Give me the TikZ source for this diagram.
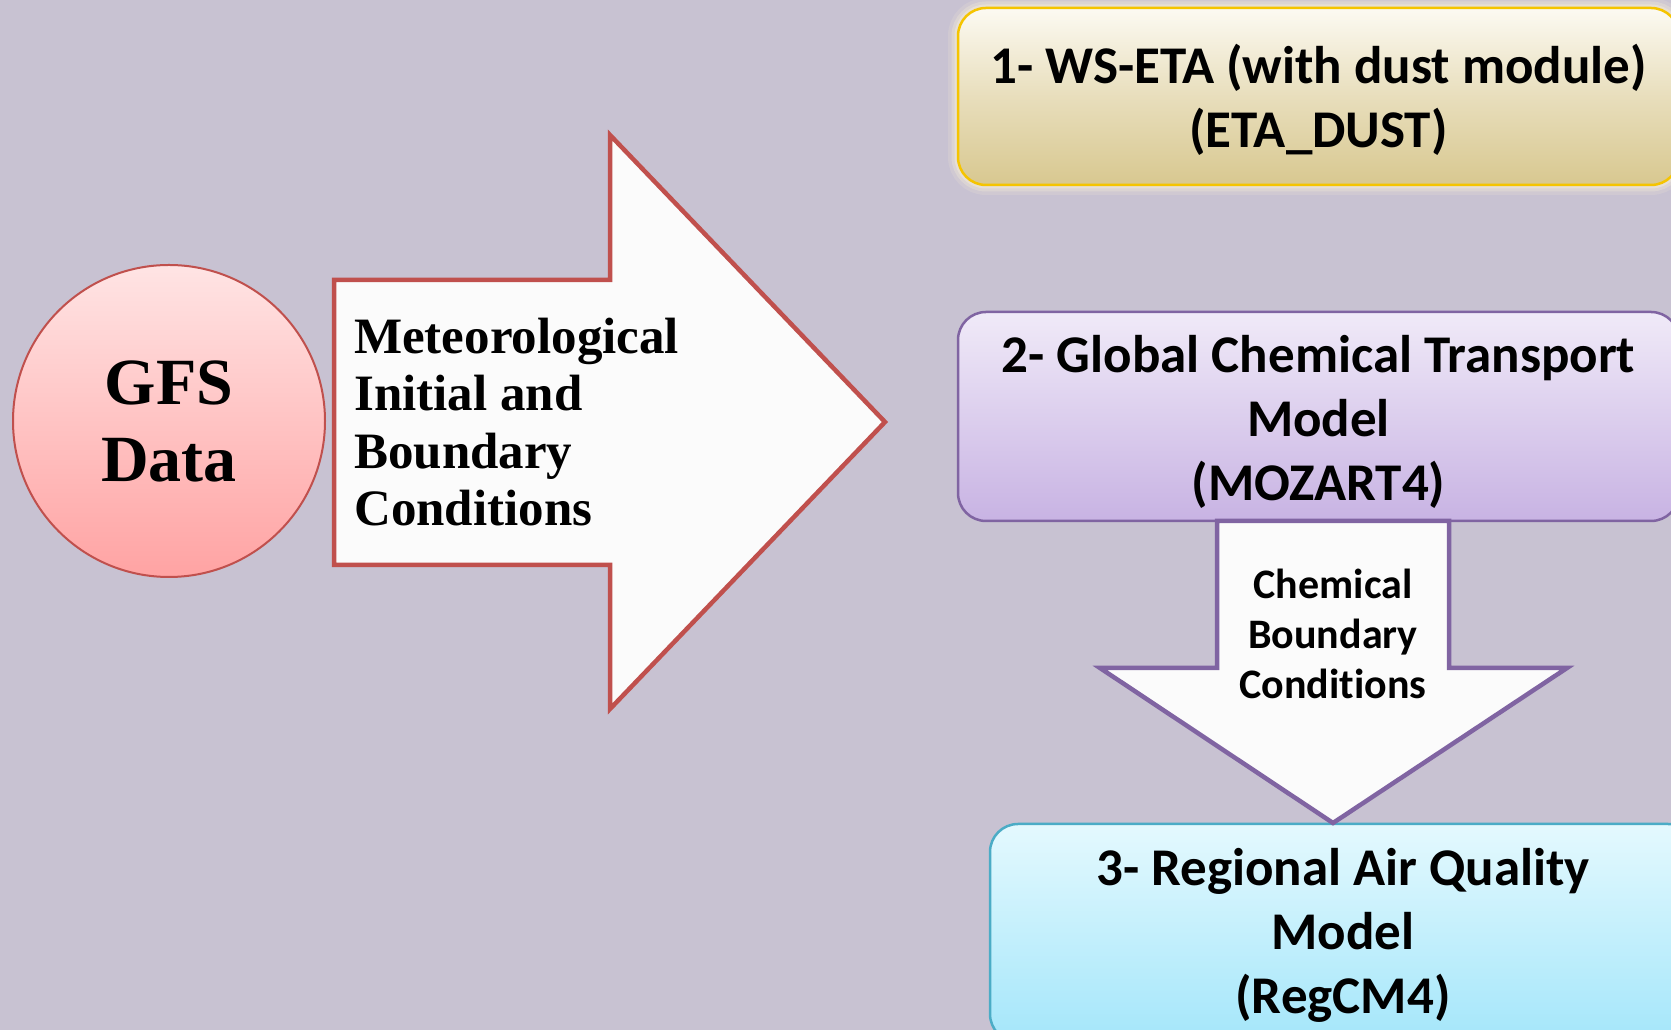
\documentclass[tikz,border=0pt]{standalone}
\usepackage{fontspec}
\setmainfont{Liberation Serif}
\newfontfamily\boxfont[Ligatures=NoCommon]{Carlito}

\definecolor{bgcol}{HTML}{C8C2D2}
\definecolor{redline}{HTML}{C0504D}
\definecolor{purpline}{HTML}{8064A2}
\definecolor{cyanline}{HTML}{4BACC6}
\definecolor{goldline}{HTML}{F5C400}
\definecolor{arrowfill}{HTML}{FBFBFB}
\definecolor{gfstop}{HTML}{FFE4E4}
\definecolor{gfsbot}{HTML}{FFA3A3}
\definecolor{etatop}{HTML}{FCFAF2}
\definecolor{etamid}{HTML}{E8DEBC}
\definecolor{etabot}{HTML}{D8C890}
\definecolor{moztop}{HTML}{F0EAF8}
\definecolor{mozbot}{HTML}{C8B3E3}
\definecolor{regtop}{HTML}{E4F9FE}
\definecolor{regbot}{HTML}{A4E6FA}
\definecolor{glowcol}{HTML}{FFF6D8}

\tikzset{
  gfsdisc/.style={circle, draw=redline, line width=2pt, minimum size=312pt, inner sep=0pt,
    top color=gfstop, bottom color=gfsbot, align=center,
    font=\bfseries\fontsize{66}{77}\selectfont},
  bigarrow/.style={fill=arrowfill, line width=4.5pt, line join=miter},
  arrowtext/.style={align=left, inner sep=0pt, font=\bfseries\fontsize{51}{57.5}\selectfont},
  chemtext/.style={align=center, inner sep=0pt, font=\boxfont\bfseries\fontsize{42}{50}\selectfont},
  modelbox/.style={line width=2.5pt, rounded corners=28pt, minimum width=721pt,
    minimum height=177pt, inner sep=0pt},
  modeltext/.style={align=center, inner sep=0pt,
    font=\boxfont\bfseries\fontsize{53}{64}\selectfont},
  glowline/.style={draw=glowcol, rounded corners=28pt}
}

\begin{document}
\begin{tikzpicture}[x=1pt,y=1pt]
  \fill[bgcol] (0,0) rectangle (1671,1030);
  \useasboundingbox (0,0) rectangle (1671,1030);
  \clip (0,0) rectangle (1671,1030);

  % soft glow round the first model
  \foreach \w/\o in {20/0.15,13/0.25,7/0.35}
    \draw[glowline, line width=\w pt, opacity=\o] (958,845) rectangle (1679,1022);

  % input data
  \node[gfsdisc] (gfs) at (169,609) {GFS\\Data};
  \draw[bigarrow, draw=redline]
    (334,750) -- (610,750) -- (610,895) -- (885,608)
    -- (610,321) -- (610,465) -- (334,465) -- cycle;
  \node[arrowtext, anchor=west] (meteo) at (354,608)
    {Meteorological\\Initial and\\Boundary\\Conditions};

  % models
  \node[modelbox, draw=goldline, top color=etatop, bottom color=etabot,
    middle color=etamid] (eta) at (1318.5,933.5) {};
  \node[modeltext] (etatext) at ([yshift=-3pt]eta.center)
    {1- WS-ETA (with dust module)\\(ETA\_DUST)};
  \node[modelbox, draw=purpline, minimum height=209pt, top color=moztop,
    bottom color=mozbot] (mozart) at (1318.5,613.5) {};
  \node[modeltext] (moztext) at ([yshift=-5pt]mozart.center)
    {2- Global Chemical Transport\\Model\\(MOZART4)};
  \node[modelbox, draw=cyanline, minimum width=706pt, minimum height=218pt,
    top color=regtop, bottom color=regbot] (regcm) at (1343,97) {};
  \node[modeltext] (regtext) at ([yshift=-2pt]regcm.center)
    {3- Regional Air Quality\\Model\\(RegCM4)};

  \draw[bigarrow, draw=purpline]
    (1217,509) -- (1449,509) -- (1449,362) -- (1567,362) -- (1333,207)
    -- (1100,362) -- (1217,362) -- cycle;
  \node[chemtext] (chem) at (1333,396) {Chemical\\Boundary\\Conditions};
\end{tikzpicture}
\end{document}
